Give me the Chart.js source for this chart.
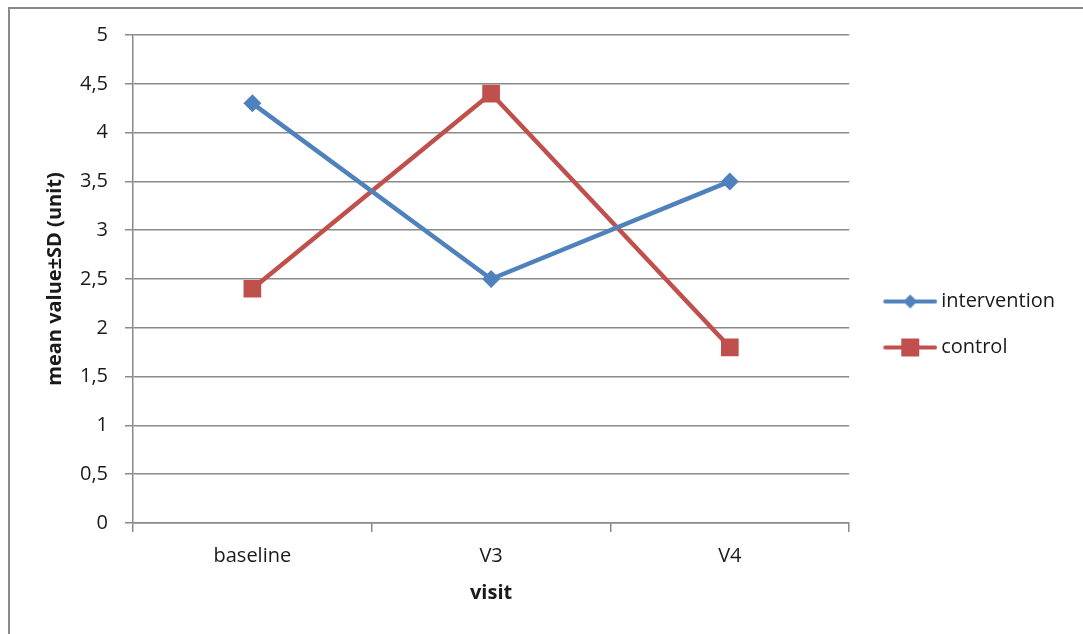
<!DOCTYPE html>
<html>
<head>
<meta charset="utf-8">
<script src="https://cdn.jsdelivr.net/npm/chart.js@4.4.1/dist/chart.umd.min.js"></script>
<style>
  html, body { margin: 0; padding: 0; background: #fff; }
  #wrap { width: 1083px; height: 634px; position: relative; }
</style>
</head>
<body>
<div id="wrap"><canvas id="chart" width="1083" height="634"></canvas></div>
<script>
// Datos
const visits = ['baseline', 'V3', 'V4'];
const intervention = [4.3, 2.5, 3.5];
const control = [2.4, 4.4, 1.8];

const BLUE = '#4F81BD';
const RED = '#C0504D';
const GRID = '#8a8a8a';
const FONT = "'Open Sans', sans-serif";

// Icono de leyenda: línea con marcador
function legendIcon(color, shape) {
    const c = document.createElement('canvas');
    c.width = 68;
    c.height = 22;
    const ctx = c.getContext('2d');
    ctx.strokeStyle = color;
    ctx.fillStyle = color;
    ctx.lineWidth = 4;
    ctx.lineCap = 'round';
    ctx.beginPath();
    ctx.moveTo(16, 11);
    ctx.lineTo(66, 11);
    ctx.stroke();
    const cx = 41, cy = 11;
    ctx.beginPath();
    if (shape === 'diamond') {
        ctx.moveTo(cx, cy - 7);
        ctx.lineTo(cx + 7, cy);
        ctx.lineTo(cx, cy + 7);
        ctx.lineTo(cx - 7, cy);
        ctx.closePath();
    } else {
        ctx.rect(cx - 9, cy - 9, 18, 18);
    }
    ctx.fill();
    return c;
}

// Marco exterior
const framePlugin = {
    id: 'frame',
    beforeDraw(chart) {
        const ctx = chart.ctx;
        ctx.save();
        ctx.strokeStyle = '#8a8a8a';
        ctx.lineWidth = 2;
        ctx.strokeRect(9, 8, chart.width + 20, chart.height + 20);
        ctx.restore();
    }
};

const icons = [legendIcon(BLUE, 'diamond'), legendIcon(RED, 'square')];

new Chart(document.getElementById('chart'), {
    type: 'line',
    data: {
        labels: visits,
        datasets: [{
            label: 'intervention',
            data: intervention,
            borderColor: BLUE,
            backgroundColor: BLUE,
            borderWidth: 4.5,
            tension: 0,
            pointStyle: 'rectRot',
            pointRadius: 9,
            pointBorderWidth: 0
        }, {
            label: 'control',
            data: control,
            borderColor: RED,
            backgroundColor: RED,
            borderWidth: 4.5,
            tension: 0,
            pointStyle: 'rect',
            pointRadius: 12.5,
            pointBorderWidth: 0
        }]
    },
    options: {
        responsive: false,
        animation: false,
        layout: {
            padding: { left: 10, top: 35, right: 18, bottom: 20 }
        },
        plugins: {
            tooltip: { enabled: false },
            legend: {
                display: true,
                position: 'right',
                labels: {
                    usePointStyle: true,
                    pointStyleWidth: 56,
                    padding: 26,
                    color: '#1a1a1a',
                    font: { family: FONT, size: 20 },
                    generateLabels(chart) {
                        return chart.data.datasets.map((ds, i) => ({
                            text: ds.label,
                            pointStyle: icons[i],
                            fillStyle: ds.borderColor,
                            strokeStyle: ds.borderColor,
                            lineWidth: 0,
                            fontColor: '#1a1a1a',
                            datasetIndex: i
                        }));
                    }
                }
            }
        },
        scales: {
            x: {
                offset: true,
                afterFit(scale) { scale.height = 91; },
                grid: {
                    offset: true,
                    drawOnChartArea: false,
                    drawTicks: true,
                    tickLength: 9,
                    color: GRID,
                    lineWidth: 1.5
                },
                border: { display: true, color: GRID, width: 1.5 },
                ticks: {
                    color: '#1a1a1a',
                    padding: 12,
                    font: { family: FONT, size: 20 }
                },
                title: {
                    display: true,
                    text: 'visit',
                    color: '#1a1a1a',
                    padding: { top: 0, bottom: 9 },
                    font: { family: FONT, size: 20, weight: 'bold' }
                }
            },
            y: {
                min: 0,
                max: 5,
                afterFit(scale) { scale.width = 123; },
                grid: {
                    color: GRID,
                    lineWidth: 1.5,
                    tickLength: 8
                },
                border: { display: true, color: GRID, width: 1.5 },
                ticks: {
                    stepSize: 0.5,
                    color: '#1a1a1a',
                    padding: 17,
                    font: { family: FONT, size: 20 },
                    callback: v => String(v).replace('.', ',')
                },
                title: {
                    display: true,
                    text: 'mean value±SD (unit)',
                    color: '#1a1a1a',
                    padding: { top: 33, bottom: 0 },
                    font: { family: FONT, size: 20, weight: 'bold' }
                }
            }
        }
    },
    plugins: [framePlugin]
});
</script>
</body>
</html>
